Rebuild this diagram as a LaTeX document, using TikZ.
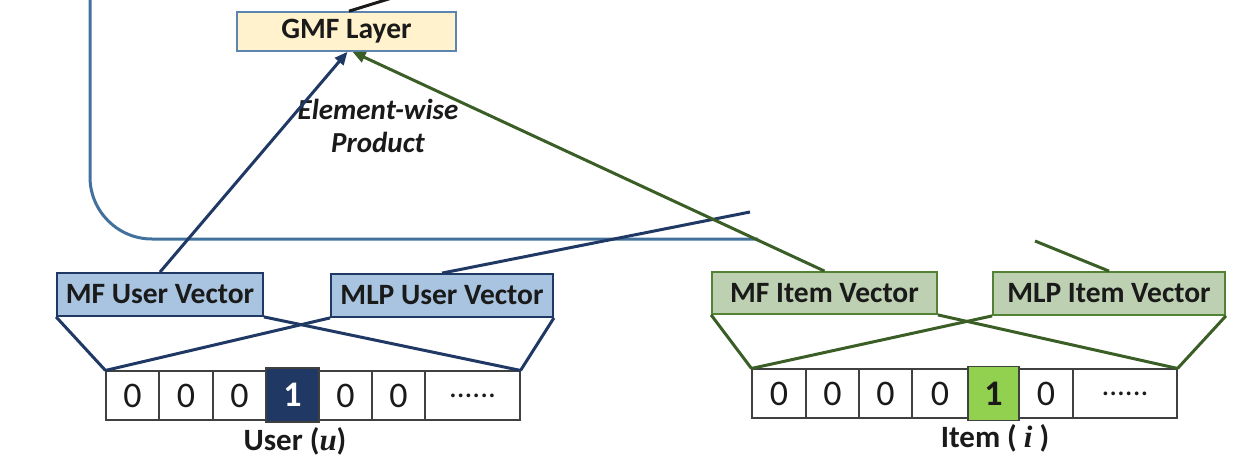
\documentclass[tikz,border=0pt]{standalone}
\usepackage{fontspec}
\setmainfont{Carlito}
\newfontfamily\tnr{Liberation Serif}
\usetikzlibrary{arrows.meta}
\definecolor{navy}{HTML}{203864}
\definecolor{ublue}{HTML}{A9C4E0}
\definecolor{gfill}{HTML}{BDD0B2}
\definecolor{gborder}{HTML}{548235}
\definecolor{gline}{HTML}{3A5E25}
\definecolor{steel}{HTML}{41719C}
\definecolor{gmfborder}{HTML}{5B84B1}
\definecolor{gmffill}{HTML}{FFF2CC}
\definecolor{txt}{HTML}{1A1A1A}
\definecolor{cellgray}{HTML}{404040}
\definecolor{hlgreen}{HTML}{92D050}
\tikzset{
  box/.style={draw, line width=1.8pt, inner sep=0pt, text=txt,
    font=\fontsize{29.5}{34}\selectfont\bfseries},
  ubox/.style={box, draw=navy, fill=ublue},
  ibox/.style={box, draw=gborder, fill=gfill},
  cell/.style={draw=cellgray, line width=1.1pt, fill=white, inner sep=0pt,
    text=txt, minimum height=49pt, font=\fontsize{36}{40}\selectfont},
  dotcell/.style={cell, font=\fontsize{31}{36}\selectfont},
  hlcell/.style={cell, minimum height=54pt, font=\fontsize{36}{40}\selectfont\bfseries},
  blueline/.style={draw=navy, line width=3pt},
  greenline/.style={draw=gline, line width=3pt},
  tip/.style={-{Triangle[length=13pt,width=11pt]}},
  lbl/.style={text=txt, font=\fontsize{31}{36}\selectfont\bfseries}
}
\begin{document}
\begin{tikzpicture}[x=1pt,y=-1pt]
\useasboundingbox (0,0) rectangle (1233,460);
\clip (0,0) rectangle (1233,460);

% outer rounded frame
\coordinate (frameend) at (758,239);
\coordinate (frametop) at (90,-20);
\draw[draw=steel, line width=3pt, rounded corners=62pt] (frameend) -- (90,239) -- (frametop);

% GMF layer
\node[box, draw=gmfborder, fill=gmffill, line width=1.6pt, minimum width=219pt, minimum height=39pt,
  font=\fontsize{29.5}{34}\selectfont\bfseries] (gmf) at (346.5,31.5) {GMF Layer};
\coordinate (gmfout) at (395,-3);
\draw[draw=txt, line width=3pt] ([xshift=2.5pt]gmf.north) -- (gmfout);

% embedding boxes
\node[ubox, minimum width=206pt, minimum height=43pt] (mfu) at (160,294.5) {MF User Vector};
\node[ubox, minimum width=222pt, minimum height=43pt] (mlpu) at (442,295.5) {MLP User Vector};
\node[ibox, minimum width=225pt, minimum height=42pt] (mfi) at (824.5,293) {MF Item Vector};
\node[ibox, minimum width=232pt, minimum height=43pt] (mlpi) at (1109,293.5) {MLP Item Vector};

% user one-hot vector
\node[cell, minimum width=53pt] (u1) at (132.5,395.5) {0};
\node[cell, minimum width=54pt] (u2) at (186,395.5) {0};
\node[cell, minimum width=53pt] (u3) at (239.5,395.5) {0};
\node[cell, minimum width=53pt] (u5) at (345.5,395.5) {0};
\node[cell, minimum width=53pt] (u6) at (398.5,395.5) {0};
\node[dotcell, minimum width=95pt] (u7) at (472.5,395.5) {......};
\node[hlcell, fill=navy, text=white, minimum width=53pt] (u4) at (292.5,395) {1};

% item one-hot vector
\node[cell, minimum width=54pt] (i1) at (779,393.5) {0};
\node[cell, minimum width=53pt] (i2) at (832.5,393.5) {0};
\node[cell, minimum width=53pt] (i3) at (885.5,393.5) {0};
\node[cell, minimum width=56pt] (i4) at (940,393.5) {0};
\node[cell, minimum width=54pt] (i6) at (1046,393.5) {0};
\node[dotcell, minimum width=104pt] (i7) at (1125,393.5) {......};
\node[hlcell, fill=hlgreen, minimum width=51pt] (i5) at (993.5,393.5) {1};

% labels
\node[lbl] (ulabel) at (295,441) {User ({\tnr\itshape u\/})};
\node[lbl] (ilabel) at (995,438) {Item ( {\tnr\itshape i} )};
\node[text=txt, align=center, font=\fontsize{29}{33}\selectfont\bfseries\itshape] (ew) at (378,126) {Element-wise\\Product};

% fan lines (user)
\draw[blueline] (mfu.south west) -- (u1.north west);
\draw[blueline] (mfu.south east) -- (u7.north east);
\draw[blueline] (mlpu.south west) -- (u1.north west);
\draw[blueline] (mlpu.south east) -- (u7.north east);

% fan lines (item)
\draw[greenline] (mfi.south west) -- (i1.north west);
\draw[greenline] (mfi.south east) -- (i7.north east);
\draw[greenline] (mlpi.south west) -- (i1.north west);
\draw[greenline] (mlpi.south east) -- (i7.north east);

% connectors upward
\coordinate (mlpuend) at (750,212);
\coordinate (mlpiend) at (1035,241);
\draw[blueline] (mlpu.north) -- (mlpuend);
\draw[greenline] (mlpi.north) -- (mlpiend);
\draw[blueline, tip] (mfu.north) -- ([xshift=1pt]gmf.south);
\draw[greenline, tip] (mfi.north) -- ([xshift=6pt]gmf.south);
\end{tikzpicture}
\end{document}
